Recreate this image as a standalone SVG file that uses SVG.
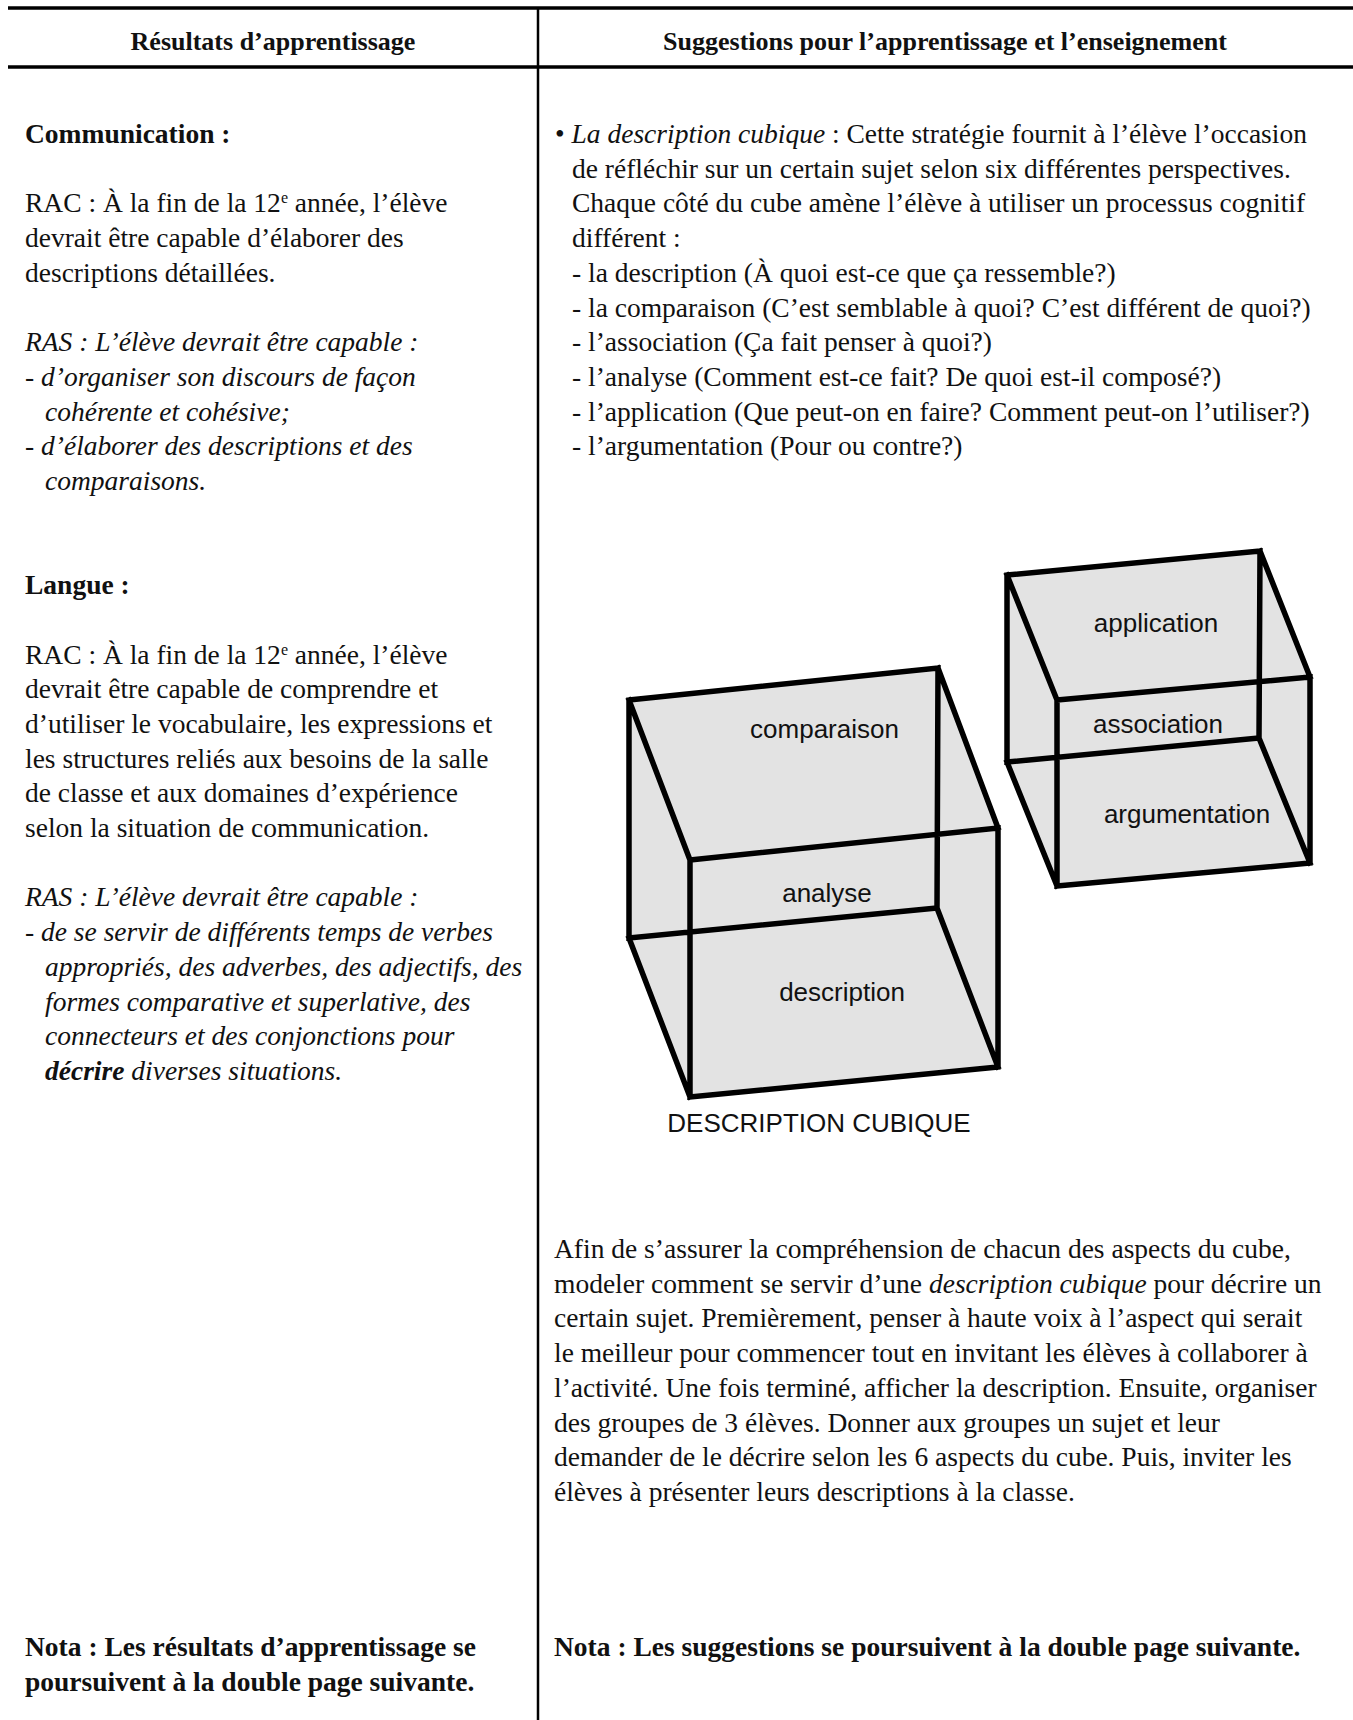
<svg xmlns="http://www.w3.org/2000/svg" width="1353" height="1720" viewBox="0 0 1353 1720">
<style>
.t{font-family:"Liberation Serif","Times New Roman",serif;font-size:27.5px;fill:#111}
.b{font-weight:bold}
.i{font-style:italic}
.h{font-family:"Liberation Serif","Times New Roman",serif;font-size:26px;font-weight:bold;fill:#111;text-anchor:middle}
.cl{font-family:"Liberation Sans",Arial,sans-serif;font-size:26px;fill:#111;text-anchor:middle}
.face{fill:#e3e3e3;stroke:none}
.edge{fill:none;stroke:#000;stroke-width:5.5;stroke-linecap:square;stroke-linejoin:miter}
.rule{stroke:#000;fill:none}
</style>
<rect width="1353" height="1720" fill="#fff"/>

<g id="table-rules">
<line class="rule" x1="8" y1="8" x2="1353" y2="8" stroke-width="3.5"/>
<line class="rule" x1="8" y1="67" x2="1353" y2="67" stroke-width="3.5"/>
<line class="rule" x1="538" y1="8" x2="538" y2="1720" stroke-width="2.5"/>
</g>

<g id="headers">
<text class="h" x="273" y="50">Résultats d’apprentissage</text>
<text class="h" x="945" y="50">Suggestions pour l’apprentissage et l’enseignement</text>
</g>

<g id="left-column">
<text class="t b" x="25" y="143">Communication :</text>
<text class="t" x="25" y="212.4">RAC : À la fin de la 12<tspan dy="-9" font-size="16">e</tspan><tspan dy="9"> année, l’élève</tspan></text>
<text class="t" x="25" y="247.1">devrait être capable d’élaborer des</text>
<text class="t" x="25" y="281.8">descriptions détaillées.</text>
<text class="t i" x="25" y="351.2">RAS : L’élève devrait être capable :</text>
<text class="t i" x="25" y="385.9">- d’organiser son discours de façon</text>
<text class="t i" x="45" y="420.6">cohérente et cohésive;</text>
<text class="t i" x="25" y="455.3">- d’élaborer des descriptions et des</text>
<text class="t i" x="45" y="490">comparaisons.</text>

<text class="t b" x="25" y="594.1">Langue :</text>
<text class="t" x="25" y="663.5">RAC : À la fin de la 12<tspan dy="-9" font-size="16">e</tspan><tspan dy="9"> année, l’élève</tspan></text>
<text class="t" x="25" y="698.2">devrait être capable de comprendre et</text>
<text class="t" x="25" y="732.9">d’utiliser le vocabulaire, les expressions et</text>
<text class="t" x="25" y="767.6">les structures reliés aux besoins de la salle</text>
<text class="t" x="25" y="802.3">de classe et aux domaines d’expérience</text>
<text class="t" x="25" y="837">selon la situation de communication.</text>
<text class="t i" x="25" y="906.4">RAS : L’élève devrait être capable :</text>
<text class="t i" x="25" y="941.1">- de se servir de différents temps de verbes</text>
<text class="t i" x="45" y="975.8">appropriés, des adverbes, des adjectifs, des</text>
<text class="t i" x="45" y="1010.5">formes comparative et superlative, des</text>
<text class="t i" x="45" y="1045.2">connecteurs et des conjonctions pour</text>
<text class="t i" x="45" y="1079.9"><tspan class="b">décrire</tspan> diverses situations.</text>

<text class="t b" x="25" y="1656">Nota : Les résultats d’apprentissage se</text>
<text class="t b" x="25" y="1691">poursuivent à la double page suivante.</text>
</g>

<g id="right-column">
<text class="t" x="555" y="143">• <tspan class="i">La description cubique</tspan> : Cette stratégie fournit à l’élève l’occasion</text>
<text class="t" x="572" y="177.7">de réfléchir sur un certain sujet selon six différentes perspectives.</text>
<text class="t" x="572" y="212.4">Chaque côté du cube amène l’élève à utiliser un processus cognitif</text>
<text class="t" x="572" y="247.1">différent :</text>
<text class="t" x="572" y="281.8">- la description (À quoi est-ce que ça ressemble?)</text>
<text class="t" x="572" y="316.5">- la comparaison (C’est semblable à quoi? C’est différent de quoi?)</text>
<text class="t" x="572" y="351.2">- l’association (Ça fait penser à quoi?)</text>
<text class="t" x="572" y="385.9">- l’analyse (Comment est-ce fait? De quoi est-il composé?)</text>
<text class="t" x="572" y="420.6">- l’application (Que peut-on en faire? Comment peut-on l’utiliser?)</text>
<text class="t" x="572" y="455.3">- l’argumentation (Pour ou contre?)</text>

<text class="t" x="554" y="1258">Afin de s’assurer la compréhension de chacun des aspects du cube,</text>
<text class="t" x="554" y="1292.7">modeler comment se servir d’une <tspan class="i">description cubique</tspan> pour décrire un</text>
<text class="t" x="554" y="1327.4">certain sujet. Premièrement, penser à haute voix à l’aspect qui serait</text>
<text class="t" x="554" y="1362.1">le meilleur pour commencer tout en invitant les élèves à collaborer à</text>
<text class="t" x="554" y="1396.8">l’activité. Une fois terminé, afficher la description. Ensuite, organiser</text>
<text class="t" x="554" y="1431.5">des groupes de 3 élèves. Donner aux groupes un sujet et leur</text>
<text class="t" x="554" y="1466.2">demander de le décrire selon les 6 aspects du cube. Puis, inviter les</text>
<text class="t" x="554" y="1500.9">élèves à présenter leurs descriptions à la classe.</text>

<text class="t b" x="554" y="1656">Nota : Les suggestions se poursuivent à la double page suivante.</text>
</g>

<g id="cube-1">
<polygon class="face" points="629,700 938,668 998,828 998,1067 690,1097 629,938"/>
<path class="edge" d="M629,700 L938,668 L937,908 L629,938 Z M690,860 L998,828 L998,1067 L690,1097 Z M629,700 L690,860 M938,668 L998,828 M937,908 L998,1067 M629,938 L690,1097"/>
<text class="cl" x="824.5" y="738">comparaison</text>
<text class="cl" x="827" y="902">analyse</text>
<text class="cl" x="842" y="1001">description</text>
</g>

<g id="cube-1-caption">
<text class="cl" x="819" y="1132">DESCRIPTION CUBIQUE</text>
</g>

<g id="cube-2">
<polygon class="face" points="1007,575 1260,551 1310,677 1310,863 1057,886 1007,762"/>
<path class="edge" d="M1007,575 L1260,551 L1259,738 L1007,762 Z M1057,700 L1310,677 L1310,863 L1057,886 Z M1007,575 L1057,700 M1260,551 L1310,677 M1259,738 L1310,863 M1007,762 L1057,886"/>
<text class="cl" x="1156" y="632">application</text>
<text class="cl" x="1158" y="733">association</text>
<text class="cl" x="1187" y="823">argumentation</text>
</g>

<g id="connectors"></g>
</svg>
